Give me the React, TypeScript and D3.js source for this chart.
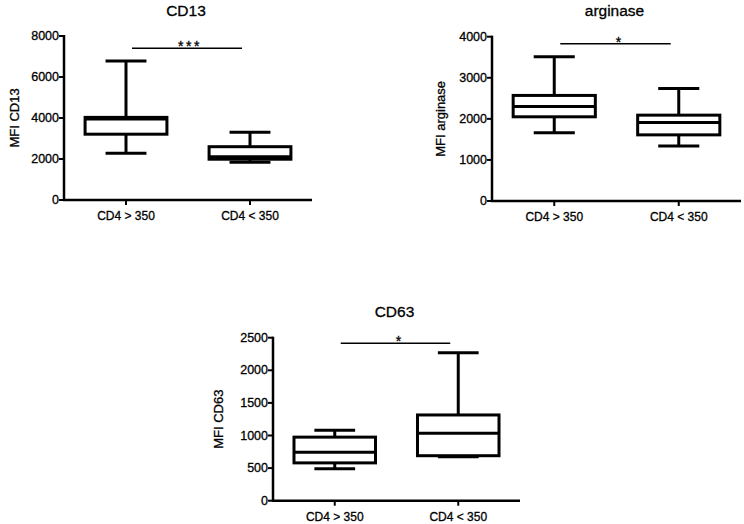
import React from "react";
import * as d3 from "d3";

// ---- data ----
const categories = ["CD4 > 350", "CD4 < 350"];

// box stats: [min, q1, median, q3, max]
const cd13Stats = [
  [2280, 3210, 3950, 4030, 6780],
  [1840, 1990, 2110, 2600, 3300],
];
const arginaseStats = [
  [1660, 2050, 2300, 2570, 3510],
  [1340, 1610, 1910, 2090, 2740],
];
const cd63Stats = [
  [490, 580, 745, 975, 1080],
  [675, 690, 1035, 1315, 2270],
];

const cd13Ticks = [0, 2000, 4000, 6000, 8000];
const arginaseTicks = [0, 1000, 2000, 3000, 4000];
const cd63Ticks = [0, 500, 1000, 1500, 2000, 2500];

const titles = ["CD13", "arginase", "CD63"];
const yLabels = ["MFI CD13", "MFI arginase", "MFI CD63"];
const sigValues = [7400, 3830, 2415];
const sigMarks = ["***", "*", "*"];

// ---- layout ----
const W = 744;
const H = 524;
const FONT = "'Liberation Sans', Arial, Helvetica, sans-serif";

type Layout = {
  x0: number;
  x1: number;
  yTop: number;
  yBottom: number;
  labelX: number;
  titleY: number;
};

const layouts: Layout[] = [
  { x0: 64, x1: 312, yTop: 36, yBottom: 200, labelX: 14, titleY: 16 },
  { x0: 492, x1: 741, yTop: 36.7, yBottom: 201, labelX: 440, titleY: 16 },
  { x0: 273, x1: 520, yTop: 337.7, yBottom: 500.7, labelX: 218, titleY: 317 },
];

const textStroke = { stroke: "#000", strokeWidth: 0.3 };

function Panel({
  layout,
  stats,
  ticks,
  title,
  yLabel,
  sigValue,
  sigMark,
}: {
  layout: Layout;
  stats: number[][];
  ticks: number[];
  title: string;
  yLabel: string;
  sigValue: number;
  sigMark: string;
}) {
  const y = d3
    .scaleLinear()
    .domain([0, ticks[ticks.length - 1]])
    .range([layout.yBottom, layout.yTop]);
  const x = d3.scalePoint<string>().domain(categories).range([layout.x0, layout.x1]).padding(0.5);
  const step = x.step();
  const bw = step * 0.66;
  const cap = bw / 2;
  const c1 = x(categories[0])!;
  const c2 = x(categories[1])!;
  const sigY = y(sigValue);
  const midX = (layout.x0 + layout.x1) / 2;
  const midY = (layout.yTop + layout.yBottom) / 2;

  return (
    <g fontFamily={FONT} fill="#000">
      <text x={midX - 2} y={layout.titleY} fontSize={15.5} textAnchor="middle" {...textStroke}>
        {title}
      </text>
      <text
        transform={`translate(${layout.labelX},${midY}) rotate(-90)`}
        fontSize={13}
        textAnchor="middle"
        dominantBaseline="central"
        {...textStroke}
      >
        {yLabel}
      </text>
      {/* y axis */}
      <line x1={layout.x0} x2={layout.x0} y1={layout.yTop - 1} y2={layout.yBottom + 1} stroke="#000" strokeWidth={2.5} />
      {ticks.map((t) => (
        <g key={t}>
          <line x1={layout.x0 - 5} x2={layout.x0} y1={y(t)} y2={y(t)} stroke="#000" strokeWidth={2} />
          <text x={layout.x0 - 5} y={y(t)} fontSize={12.5} textAnchor="end" dominantBaseline="central" {...textStroke}>
            {t}
          </text>
        </g>
      ))}
      {/* x axis */}
      <line x1={layout.x0 - 1} x2={layout.x1} y1={layout.yBottom} y2={layout.yBottom} stroke="#000" strokeWidth={2.5} />
      {categories.map((c) => (
        <g key={c}>
          <line x1={x(c)} x2={x(c)} y1={layout.yBottom} y2={layout.yBottom + 5} stroke="#000" strokeWidth={2} />
          <text x={x(c)} y={layout.yBottom + 20} fontSize={12} textAnchor="middle" {...textStroke}>
            {c}
          </text>
        </g>
      ))}
      {/* boxes */}
      {stats.map((s, i) => {
        const cx = x(categories[i])!;
        const [mn, q1, med, q3, mx] = s;
        return (
          <g key={i} stroke="#000" strokeWidth={3} fill="none">
            <line x1={cx} x2={cx} y1={y(mx)} y2={y(q3)} />
            <line x1={cx} x2={cx} y1={y(q1)} y2={y(mn)} />
            <line x1={cx - cap / 2} x2={cx + cap / 2} y1={y(mx)} y2={y(mx)} />
            <line x1={cx - cap / 2} x2={cx + cap / 2} y1={y(mn)} y2={y(mn)} />
            <rect x={cx - bw / 2} y={y(q3)} width={bw} height={y(q1) - y(q3)} fill="#fff" />
            <line x1={cx - bw / 2} x2={cx + bw / 2} y1={y(med)} y2={y(med)} />
          </g>
        );
      })}
      {/* significance */}
      <line x1={c1 + 6} x2={c2 - 8} y1={sigY} y2={sigY} stroke="#000" strokeWidth={1.6} />
      <text
        x={(c1 + c2) / 2 + 2}
        y={sigY + 3}
        fontSize={14}
        textAnchor="middle"
        letterSpacing={sigMark.length > 1 ? 2.5 : 0}
        {...textStroke}
      >
        {sigMark}
      </text>
    </g>
  );
}

export default function App() {
  const statsAll = [cd13Stats, arginaseStats, cd63Stats];
  const ticksAll = [cd13Ticks, arginaseTicks, cd63Ticks];
  return (
    <svg width={W} height={H} style={{ display: "block", position: "absolute", left: 0, top: 0, background: "#fff" }}>
      <rect width={W} height={H} fill="#fff" />
      {layouts.map((l, i) => (
        <Panel
          key={i}
          layout={l}
          stats={statsAll[i]}
          ticks={ticksAll[i]}
          title={titles[i]}
          yLabel={yLabels[i]}
          sigValue={sigValues[i]}
          sigMark={sigMarks[i]}
        />
      ))}
    </svg>
  );
}
